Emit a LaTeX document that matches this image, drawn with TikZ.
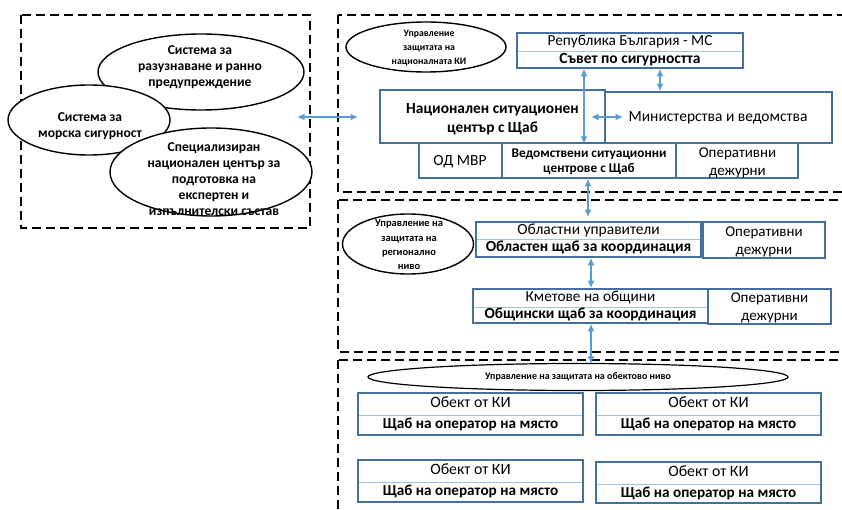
\documentclass[tikz,border=0pt]{standalone}
\usepackage{fontspec}
\setmainfont{Carlito}
\usetikzlibrary{arrows.meta,shapes.geometric}

\definecolor{cellblue}{RGB}{65,113,156}
\definecolor{divblue}{RGB}{157,195,230}
\definecolor{arrowblue}{RGB}{91,155,213}

\tikzset{
  frame/.style={draw=black, line width=2.6pt, dash pattern=on 9pt off 5pt},
  oval/.style={draw=black, line width=1.4pt, fill=white, ellipse, inner sep=0pt},
  ovaltext/.style={align=center, inner sep=0pt, font=\bfseries\fontsize{13.6}{15.8}\selectfont},
  smalloval/.style={align=center, inner sep=0pt, font=\bfseries\fontsize{#1}{14.3}\selectfont},
  smalloval/.default=10,
  cell/.style={draw=cellblue, line width=1.6pt, fill=white, inner sep=0pt},
  celltext/.style={inner sep=0pt, text height=9.5pt, text depth=3pt,
    font=\fontsize{#1}{18}\selectfont},
  celltext/.default=15,
  boldtext/.style={inner sep=0pt, text height=9.5pt, text depth=3pt,
    font=\bfseries\fontsize{#1}{18}\selectfont},
  boldtext/.default=15,
  multitext/.style={align=center, inner sep=0pt, font=\fontsize{15}{18.5}\selectfont},
  divider/.style={draw=divblue, line width=0.9pt, shorten <=0.8pt, shorten >=0.8pt},
  link/.style={draw=arrowblue, line width=1.9pt,
    {Latex[length=7.5pt,width=7pt]}-{Latex[length=7.5pt,width=7pt]}},
}

% sizes of the two rows of a split cell
\newcommand\topfs{15}
\newcommand\botfs{15}

% plain cell: name, x1, y1, x2, y2
\newcommand\cellbox[5]{%
  \node[cell, minimum width={#4-#2}, minimum height={#5-#3}] (#1) at ({(#2+#4)/2},{(#3+#5)/2}) {};}

% two-row cell: name, x1, y1, x2, y split, y2, upper text, lower (bold) text
\newcommand\splitcell[8]{%
  \cellbox{#1}{#2}{#3}{#4}{#6}
  \coordinate (#1-l) at (#2,#5);
  \coordinate (#1-r) at (#4,#5);
  \draw[divider] (#1-l) -- (#1-r);
  \node[celltext=\topfs] (#1-top) at ({(#2+#4)/2},{(#3+#5)/2+0.5}) {#7};
  \node[boldtext=\botfs] (#1-bot) at ({(#2+#4)/2},{(#5+#6)/2+0.5}) {#8};}

\begin{document}
\begin{tikzpicture}[x=1pt, y=-1pt]
  \useasboundingbox (0,0) rectangle (842,510);
  \clip (0,0) rectangle (842,510);

  % dashed level frames
  \draw[frame] (21,15) rectangle (310,228);
  \draw[frame] (338,15) rectangle (870,192);
  \draw[frame] (338,200) rectangle (870,352);
  \draw[frame] (338,360) rectangle (870,540);

  % supporting systems
  \node[oval, minimum width=206, minimum height=76] (razuz) at (201,72) {};
  \node[ovaltext] (razuz-t) at (200,67) {Система за\\разузнаване и ранно\\предупреждение};
  \node[oval, minimum width=162, minimum height=70] (morska) at (89,120) {};
  \node[ovaltext] (morska-t) at (90,126) {Система за\\морска сигурност};
  \node[oval, minimum width=202, minimum height=88] (spec) at (211,172) {};
  \node[ovaltext] (spec-t) at (214,179) {Специализиран\\национален център за\\подготовка на\\експертен и\\изпълнителски състав};

  % national level
  \node[oval, minimum width=160, minimum height=50] (nat) at (426,47) {};
  \node[smalloval=9.8] (nat-t) at (429,48) {Управление\\защитата на\\националната КИ};

  \renewcommand\topfs{15.3}\renewcommand\botfs{15.5}
  \splitcell{rep}{517}{33}{743}{51}{68}{Република България - МС}{Съвет по сигурността}

  \cellbox{nsc}{380}{90}{605}{143}
  \node[align=center, inner sep=0pt, font=\bfseries\fontsize{15.4}{19}\selectfont] (nsc-t) at (492.5,119) {Национален ситуационен\\център с Щаб};
  \cellbox{min}{605}{92}{832}{143}
  \node[celltext=15.5] (min-t) at (718,118) {Министерства и ведомства};

  \cellbox{odmvr}{419}{143}{502}{178}
  \node[celltext=15.5] (odmvr-t) at (460,162) {ОД МВР};
  \cellbox{ved}{502}{143}{676}{178}
  \node[align=center, inner sep=0pt, font=\bfseries\fontsize{13.3}{15}\selectfont] (ved-t) at (589,162) {Ведомствени ситуационни\\центрове с Щаб};
  \cellbox{opd1}{676}{143}{798}{178}
  \node[multitext] (opd1-t) at (737.5,163) {Оперативни\\дежурни};

  % regional level
  \node[oval, minimum width=131, minimum height=60] (reg) at (408,244) {};
  \node[smalloval=10.5] (reg-t) at (409,245) {Управление на\\защитата на\\регионално\\ниво};

  \renewcommand\topfs{15.5}\renewcommand\botfs{15.4}
  \splitcell{obl}{476}{222}{701}{239}{257}{Областни управители}{Областен щаб за координация}
  \cellbox{opd2}{703}{222}{825}{258}
  \node[multitext] (opd2-t) at (764,242) {Оперативни\\дежурни};

  \renewcommand\topfs{15.3}\renewcommand\botfs{15.3}
  \splitcell{kmet}{473}{289}{708}{307}{323}{Кметове на общини}{Общински щаб за координация}
  \cellbox{opd3}{708}{289}{831}{324}
  \node[multitext] (opd3-t) at (769.5,308) {Оперативни\\дежурни};

  % site level
  \node[oval, line width=1.2pt, minimum width=420, minimum height=27] (obj) at (578,377) {};
  \node[inner sep=0pt, font=\bfseries\fontsize{10}{12}\selectfont] (obj-t) at (578,377) {Управление на защитата на обектово ниво};

  \renewcommand\topfs{15.8}\renewcommand\botfs{15.2}
  \splitcell{s1}{358}{393}{583}{415}{435}{Обект от КИ}{Щаб на оператор на място}
  \splitcell{s2}{596}{393}{821}{415}{435}{Обект от КИ}{Щаб на оператор на място}
  \splitcell{s3}{358}{460}{583}{482}{502}{Обект от КИ}{Щаб на оператор на място}
  \splitcell{s4}{596}{462}{821}{484}{503}{Обект от КИ}{Щаб на оператор на място}

  % connector anchors
  \coordinate (xa) at (584,0);
  \coordinate (xb) at (660,0);
  \coordinate (xc) at (588,0);
  \coordinate (xd) at (591,0);
  \coordinate (west-end) at (297,117);
  \coordinate (east-end) at (358,117);
  \coordinate (h-left) at (591,117);
  \coordinate (h-right) at (623,117);

  % connectors
  \draw[link] (west-end) -- (east-end);
  \draw[link] (rep.south -| xa) -- (nsc.south -| xa);
  \draw[link] (rep.south -| xb) -- (min.north -| xb);
  \draw[link] (h-left) -- (h-right);
  \draw[link] (ved.south -| xc) -- ([yshift=4pt]obl.north -| xc);
  \draw[link] (obl.south -| xd) -- (kmet.north -| xd);
  \draw[link] (kmet.south -| xd) -- ([yshift=-1pt]obj.north -| xd);
\end{tikzpicture}
\end{document}
